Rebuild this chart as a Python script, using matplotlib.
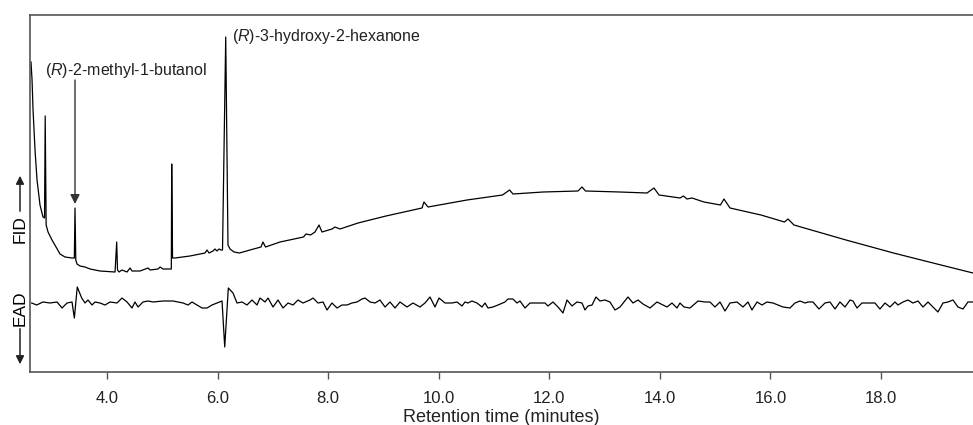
import matplotlib
matplotlib.use('Agg')
import matplotlib.pyplot as plt
from matplotlib.patches import FancyArrowPatch

plt.rcParams['font.family'] = ['Liberation Sans', 'DejaVu Sans']
plt.rcParams['mathtext.fontset'] = 'custom'
plt.rcParams['mathtext.rm'] = 'Liberation Sans'
plt.rcParams['mathtext.it'] = 'Liberation Sans:italic'

# FID trace (retention time in minutes, response in arbitrary units)
fid_time = [2.625, 2.644, 2.662, 2.698, 2.734, 2.788, 2.842, 2.870, 2.882, 2.899,
            2.933, 3.005, 3.078, 3.150, 3.240, 3.367, 3.409, 3.421, 3.435, 3.457,
            3.512, 3.602, 3.693, 3.873, 4.145, 4.175, 4.190, 4.217, 4.271, 4.362,
            4.416, 4.452, 4.597, 4.742, 4.778, 4.922, 4.959, 5.013, 5.139, 5.163,
            5.170, 5.185, 5.230, 5.501, 5.772, 5.809, 5.845, 5.917, 5.953, 5.989,
            6.026, 6.062, 6.089, 6.147, 6.188, 6.225, 6.297, 6.396, 6.586, 6.785,
            6.821, 6.867, 7.129, 7.554, 7.599, 7.681, 7.762, 7.834, 7.889, 8.069,
            8.124, 8.214, 8.540, 9.046, 9.697, 9.733, 9.806, 10.511, 11.153, 11.281,
            11.343, 11.886, 12.519, 12.591, 12.654, 13.278, 13.767, 13.893, 13.984, 14.363,
            14.426, 14.490, 14.580, 14.797, 15.095, 15.159, 15.268, 15.828, 16.253, 16.317,
            16.425, 17.366, 18.225, 19.084, 19.663]
fid_signal = [310, 292, 262, 222, 192, 167, 155, 154, 256, 147,
              140, 132, 125, 118, 115, 114, 114, 164, 112, 108,
              106, 105, 103, 101, 100, 130, 102, 100, 102, 100,
              104, 101, 101, 104, 102, 103, 105, 103, 103, 103,
              208, 114, 114, 116, 119, 122, 119, 121, 123, 121,
              123, 122, 122, 335, 127, 123, 120, 119, 122, 125,
              130, 125, 130, 135, 138, 137, 140, 147, 140, 143,
              145, 143, 149, 156, 164, 170, 165, 172, 177, 182,
              178, 180, 181, 185, 181, 180, 179, 184, 177, 174,
              176, 173, 174, 170, 167, 173, 164, 157, 150, 153,
              147, 132, 119, 107, 99]

# EAD trace (retention time in minutes, deflection in arbitrary units)
ead_time = [2.638, 2.727, 2.842, 2.969, 3.096, 3.186, 3.277, 3.367, 3.409, 3.462,
            3.542, 3.602, 3.656, 3.729, 3.783, 3.873, 3.964, 4.054, 4.181, 4.271,
            4.362, 4.452, 4.506, 4.561, 4.651, 4.742, 4.832, 5.013, 5.194, 5.375,
            5.465, 5.537, 5.628, 5.718, 5.809, 5.899, 5.989, 6.080, 6.129, 6.194,
            6.279, 6.351, 6.442, 6.532, 6.622, 6.713, 6.767, 6.858, 6.912, 7.002,
            7.093, 7.183, 7.274, 7.364, 7.454, 7.545, 7.671, 7.726, 7.816, 7.907,
            7.979, 8.069, 8.160, 8.250, 8.341, 8.431, 8.522, 8.612, 8.666, 8.757,
            8.847, 8.937, 9.028, 9.118, 9.209, 9.299, 9.426, 9.534, 9.661, 9.751,
            9.842, 9.932, 10.005, 10.113, 10.240, 10.330, 10.421, 10.475, 10.529, 10.601,
            10.692, 10.782, 10.837, 10.891, 10.981, 11.072, 11.198, 11.252, 11.343, 11.415,
            11.470, 11.560, 11.650, 11.741, 11.831, 11.922, 11.976, 12.066, 12.157, 12.247,
            12.320, 12.410, 12.500, 12.591, 12.645, 12.699, 12.772, 12.844, 12.916, 13.007,
            13.097, 13.188, 13.278, 13.423, 13.513, 13.604, 13.694, 13.821, 13.947, 14.056,
            14.128, 14.219, 14.309, 14.363, 14.436, 14.544, 14.689, 14.815, 14.906, 14.996,
            15.087, 15.177, 15.268, 15.394, 15.503, 15.593, 15.665, 15.756, 15.846, 15.937,
            16.045, 16.136, 16.226, 16.353, 16.443, 16.534, 16.624, 16.678, 16.769, 16.877,
            16.986, 17.076, 17.167, 17.257, 17.348, 17.438, 17.492, 17.565, 17.655, 17.763,
            17.890, 17.980, 18.071, 18.161, 18.252, 18.306, 18.397, 18.487, 18.577, 18.668,
            18.758, 18.849, 18.939, 19.029, 19.120, 19.210, 19.301, 19.391, 19.482, 19.572,
            19.663]
ead_signal = [0, -2, 1, 0, 1, -5, 0, 1, -15, 16,
              5, 0, 3, -2, 1, 0, -2, 1, 0, 5,
              1, -5, 1, -4, 1, 2, 1, 2, 2, 0,
              -2, 1, -2, -5, -5, -2, 0, 2, -44, 15,
              10, 0, 1, -2, 3, -2, 5, 1, 5, -4,
              3, -5, 0, -2, 3, 0, 3, 5, 0, 1,
              -7, 0, -5, -2, -2, 0, 1, 4, 5, 1,
              0, 3, -4, 1, -5, 1, -4, 0, -4, 0,
              6, -4, 5, 0, 0, 1, -3, 1, 0, 2,
              0, -4, 0, -5, -4, -2, 1, 4, 4, 0,
              2, -5, 0, 0, 0, 0, -3, 1, -4, -10,
              3, -3, 1, 0, -7, -3, -2, 6, 2, 3,
              1, -7, -4, 6, 0, 3, -1, -5, 1, -2,
              -4, 0, -5, 0, -4, -5, 2, 1, 1, -4,
              1, -8, 0, 1, -4, 1, -7, 1, -2, 1,
              0, -2, -4, -5, 0, 2, 0, 1, 1, -6,
              0, 1, -6, 1, -4, 3, 2, -5, 0, 0,
              0, -6, 0, -4, 1, -2, 1, 3, 0, 2,
              -4, 1, -4, -9, 0, 1, 3, -4, -6, 1,
              1]
ead_offset = 69

tick_values = [4.0, 6.0, 8.0, 10.0, 12.0, 14.0, 16.0, 18.0]
tick_labels = ['4.0', '6.0', '8.0', '10.0', '12.0', '14.0', '16.0', '18.0']

fig = plt.figure(figsize=(9.73, 4.25), dpi=100)
ax = fig.add_axes([30 / 973, 53 / 425, 943 / 973, 357 / 425])

ax.plot(fid_time, fid_signal, color='black', lw=0.9)
ax.plot(ead_time, [ead_offset + v for v in ead_signal], color='black', lw=0.9)

ax.set_xlim(2.607, 19.663)
ax.set_ylim(0, 357)

spine_color = '#555555'
for side in ['left', 'bottom', 'top']:
    ax.spines[side].set_color(spine_color)
    ax.spines[side].set_linewidth(1.2)
ax.spines['right'].set_visible(False)

ax.set_xticks(tick_values)
ax.set_xticklabels(tick_labels)
ax.set_yticks([])
ax.tick_params(axis='x', direction='out', length=5, width=1, color=spine_color,
               labelsize=12, pad=9, labelcolor='#222222')
ax.set_xlabel('Retention time (minutes)', fontsize=13, labelpad=2, color='#222222')

# compound labels
ax.annotate('', xy=(3.421, 168), xytext=(3.421, 292),
            arrowprops=dict(arrowstyle='-|>', color='#333333', lw=1, mutation_scale=14,
                            shrinkA=0, shrinkB=0))
ax.text(2.879, 302, '($\\mathit{R}$)-2-methyl-1-butanol', fontsize=11.5,
        ha='left', va='center', color='#222222')
ax.text(6.26, 335, '($\\mathit{R}$)-3-hydroxy-2-hexanone', fontsize=11.5,
        ha='left', va='center', color='#222222')

# detector labels on the left
fig.text(20 / 973, 196 / 425, 'FID', rotation=90, fontsize=12.5, ha='center', va='center')
fig.text(20 / 973, 117 / 425, 'EAD', rotation=90, fontsize=12.5, ha='center', va='center')
fig.patches.append(FancyArrowPatch((20, 211), (20, 252), arrowstyle='-|>', mutation_scale=12,
                                   color='#222222', lw=1.1, transform=None))
fig.patches.append(FancyArrowPatch((20, 99), (20, 58), arrowstyle='-|>', mutation_scale=12,
                                   color='#222222', lw=1.1, transform=None))

fig.savefig('out.png', dpi=100)
